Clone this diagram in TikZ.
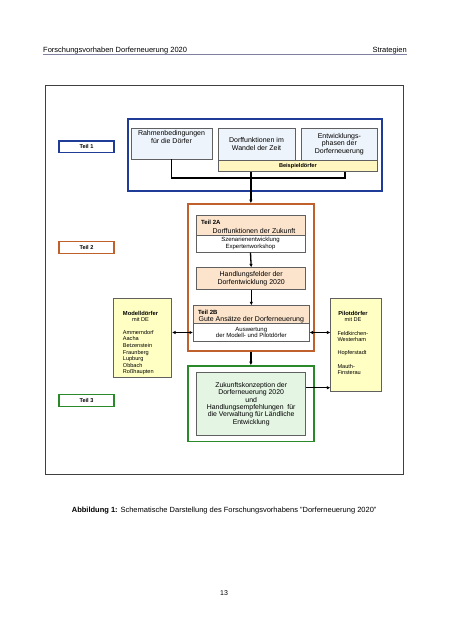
\documentclass[tikz,border=0pt]{standalone}
\usepackage{fontspec}
\setmainfont{Liberation Sans}
\usetikzlibrary{arrows.meta}
\definecolor{bluebrd}{HTML}{1F3C99}
\definecolor{orgbrd}{HTML}{C0602D}
\definecolor{grnbrd}{HTML}{2A8A2A}
\definecolor{lblue}{HTML}{EEF4FB}
\definecolor{peach}{HTML}{FBE3CC}
\definecolor{lyellow}{HTML}{FFFFC4}
\definecolor{byellow}{HTML}{FFF6C0}
\definecolor{lgreen}{HTML}{E4F5E4}
\definecolor{hdrline}{HTML}{8080A0}
\begin{document}
\begin{tikzpicture}[x=1pt,y=-1pt,
  rbox/.style={draw=gray!75!black, line width=0.6pt, inner sep=0pt, align=center},
  frame/.style={draw, line width=1.6pt, inner sep=0pt},
  lbl/.style={draw, line width=1.2pt, inner sep=0pt, minimum width=55pt, minimum height=11.7pt, font=\bfseries\fontsize{5.6}{6}\selectfont},
  txt/.style={inner sep=0pt, align=center},
  arr/.style={line width=1.3pt, -{Latex[length=3.5pt,width=3.5pt]}},
  darr/.style={line width=1.3pt, {Latex[length=3.5pt,width=3.5pt]}-{Latex[length=3.5pt,width=3.5pt]}},
  conn/.style={line width=1.3pt}
]
\useasboundingbox (0,0) rectangle (452,640);
\fill[white] (0,0) rectangle (452,640);

% header
\node[txt, anchor=base west, font=\fontsize{7.5}{9}\selectfont] (hleft) at (43,52) {Forschungsvorhaben Dorferneuerung 2020};
\node[txt, anchor=base east, font=\fontsize{7.5}{9}\selectfont] (hright) at (407,52) {Strategien};
\coordinate (hl1) at (43,54.5);
\coordinate (hl2) at (407,54.5);
\draw[hdrline, line width=1.2pt] (hl1) -- (hl2);

% outer frame
\node[draw=black!75, line width=0.8pt, minimum width=358pt, minimum height=389pt, inner sep=0pt] (outer) at (224,279.5) {};

% Teil 1
\node[frame, draw=bluebrd, minimum width=254pt, minimum height=71.7pt] (blue) at (254.7,154.85) {};
\node[rbox, fill=lblue, minimum width=81pt, minimum height=31pt, font=\fontsize{7}{7.6}\selectfont] (rahmen) at (171.5,143.5) {Rahmenbedingungen\\für die Dörfer\\[5pt]};
\node[rbox, fill=lblue, minimum width=77pt, minimum height=32pt, font=\fontsize{7}{7.6}\selectfont] (dorff) at (256.5,144) {Dorffunktionen im\\Wandel der Zeit};
\node[rbox, fill=lblue, minimum width=76.7pt, minimum height=32pt, font=\fontsize{7}{7.6}\selectfont] (entw) at (339.35,144) {Entwicklungs-\\phasen der\\Dorferneuerung};
\node[rbox, fill=byellow, minimum width=159.7pt, minimum height=11.7pt, font=\bfseries\fontsize{5.6}{6}\selectfont] (beisp) at (297.85,165.85) {Beispieldörfer};
\node[lbl, draw=bluebrd] (teil1) at (86.5,146.85) {Teil 1};

\coordinate (jr) at (345,178);
\draw[conn] (rahmen.south) |- (jr) -- (jr |- beisp.south);

% Teil 2
\node[frame, draw=orgbrd, minimum width=126.3pt, minimum height=146.7pt] (orange) at (250.85,277.35) {};
\draw[arr] (beisp.south -| orange.north) -- (orange.north);
\node[rbox, fill=peach, minimum width=109pt, minimum height=19.7pt] (a2top) at (250.5,225.15) {};
\node[txt, anchor=base west, font=\bfseries\fontsize{6}{7}\selectfont] (a2t) at (201,224) {Teil 2A};
\node[txt, anchor=base, font=\fontsize{7}{8}\selectfont] (a2s) at (254,233) {Dorffunktionen der Zukunft};
\node[rbox, fill=white, minimum width=109pt, minimum height=17.3pt, font=\fontsize{6}{6.6}\selectfont] (a2bot) at (250.5,243.65) {Szenarienentwicklung\\Expertenworkshop};
\node[rbox, fill=peach, minimum width=109pt, minimum height=21.6pt, font=\fontsize{7}{7.8}\selectfont] (handl) at (251.2,278.5) {Handlungsfelder der\\Dorfentwicklung 2020};
\node[rbox, fill=peach, minimum width=116pt, minimum height=17.6pt] (b2top) at (251.3,314.5) {};
\node[txt, anchor=base west, font=\bfseries\fontsize{6}{7}\selectfont] (b2t) at (198,314.8) {Teil 2B};
\node[txt, anchor=base, font=\fontsize{7}{8}\selectfont] (b2s) at (251.3,321.5) {Gute Ansätze der Dorferneuerung};
\node[rbox, fill=white, minimum width=116pt, minimum height=18.4pt, font=\fontsize{6}{6.8}\selectfont] (b2bot) at (251.3,332.5) {Auswertung\\der Modell- und Pilotdörfer};
\node[lbl, draw=orgbrd] (teil2) at (86.5,247.5) {Teil 2};

\draw[arr] (a2bot.south) -- (handl.north);
\draw[arr] (handl.south -| b2top.north) -- (b2top.north);

% Teil 3
\node[frame, draw=grnbrd, minimum width=126.3pt, minimum height=75.3pt] (green) at (250.85,403.65) {};
\draw[arr] (orange.south) -- (green.north);
\node[rbox, fill=lgreen, minimum width=109pt, minimum height=62.6pt, font=\fontsize{6.9}{7.3}\selectfont] (ig) at (251.2,404) {Zukunftskonzeption der\\Dorferneuerung 2020\\und\\Handlungsempfehlungen\ \ für\\die Verwaltung für Ländliche\\Entwicklung};
\node[lbl, draw=grnbrd] (teil3) at (86.5,400.35) {Teil 3};

% Modelldoerfer
\node[rbox, fill=lyellow, minimum width=58.4pt, minimum height=78.6pt] (modell) at (142.5,338) {};
\node[txt, anchor=base, font=\bfseries\fontsize{5.8}{6.5}\selectfont] (mt) at (140.5,315.3) {Modelldörfer};
\node[txt, anchor=base, font=\fontsize{5.6}{6.5}\selectfont] (mde) at (140.5,321.5) {mit DE};
\node[txt, anchor=north west, align=left, font=\fontsize{5.6}{6.6}\selectfont] (mlist) at (122.7,330) {Ammerndorf\\Aacha\\Betzenstein\\Fraunberg\\Lupburg\\Obbach\\Roßhaupten};

% Pilotdoerfer
\node[rbox, fill=lyellow, minimum width=50.6pt, minimum height=93.4pt] (pilot) at (356,345) {};
\node[txt, anchor=base, font=\bfseries\fontsize{5.8}{6.5}\selectfont] (pt) at (353,315.3) {Pilotdörfer};
\node[txt, anchor=base, font=\fontsize{5.6}{6.5}\selectfont] (pde) at (353,321.5) {mit DE};
\node[txt, anchor=north west, align=left, font=\fontsize{5.6}{6.6}\selectfont] (plist) at (337.3,331) {Feldkirchen-\\Westerham\\[6.5pt]Hopferstadt\\[6.5pt]Mauth-\\Finsterau};

\draw[darr] (modell.east |- b2bot.west) -- (b2bot.west);
\draw[darr] (b2bot.east) -- (b2bot.east -| pilot.west);
\draw[arr] ([yshift=16.3pt]ig.east) -- ([yshift=16.3pt]ig.east -| pilot.west);

% caption
\node[txt, anchor=base west, font=\fontsize{7.5}{9}\selectfont] (cap) at (71.7,512.5) {\textbf{Abbildung 1:} Schematische Darstellung des Forschungsvorhabens "Dorferneuerung 2020"};
\node[txt, anchor=base, font=\fontsize{7}{8}\selectfont] (pnum) at (224,595) {13};
\end{tikzpicture}
\end{document}
